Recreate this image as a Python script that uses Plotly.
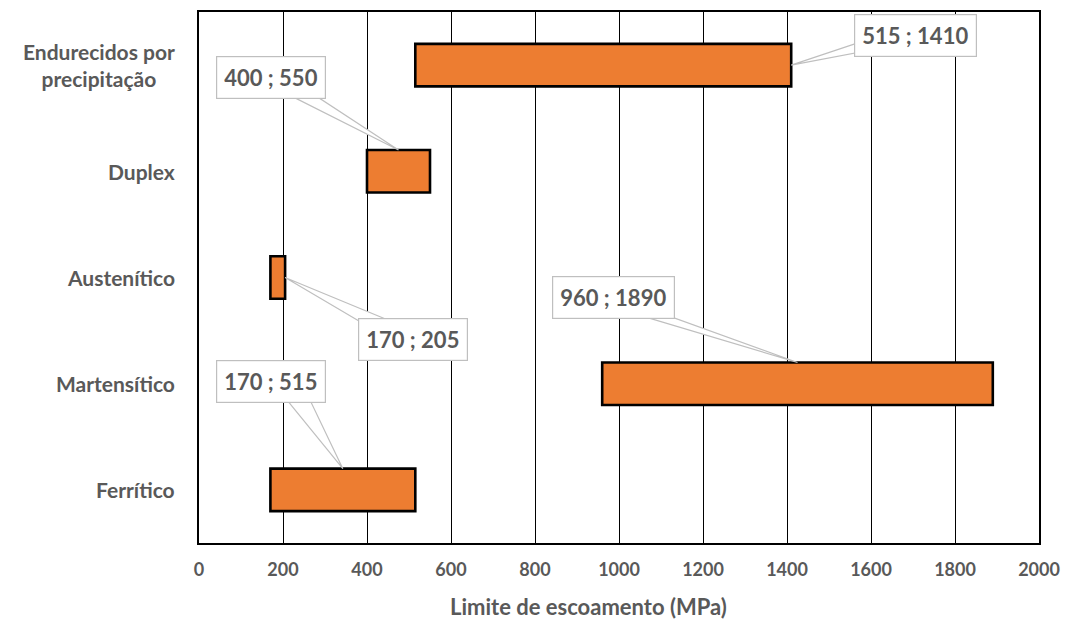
import plotly.graph_objects as go

# ---- data ----
categories = ["Ferrítico", "Martensítico", "Austenítico", "Duplex", "Endurecidos por precipitação"]
cat_labels = ["Ferrítico", "Martensítico", "Austenítico", "Duplex", "Endurecidos por<br>precipitação"]
y_min = [170, 960, 170, 400, 515]
y_max = [515, 1890, 205, 550, 1410]
x_ticks = [0, 200, 400, 600, 800, 1000, 1200, 1400, 1600, 1800, 2000]

# callout label placement (data units): box centre, and wedge base points
label_x = [172, 987, 509, 172, 1705]
label_y = [1.02, 1.81, 1.42, 3.88, 4.28]
wedge_base = [
    [(199, 0.898), (258, 0.898)],
    [(1014, 1.686), (1085, 1.686)],
    [(400, 1.545), (483, 1.545)],
    [(199, 3.75), (263, 3.75)],
    [(1590, 4.237), (1590, 4.134)],
]
# where the wedge points on the bar: "mid" = top centre, "end" = right end
tip_mode = ["mid", "mid", "end", "mid", "end"]

GRAY = "#595959"
FONT = "Lato"
BAR_W = 0.4

fig = go.Figure()
fig.add_trace(go.Bar(
    y=list(range(len(categories))),
    x=[b - a for a, b in zip(y_min, y_max)],
    base=y_min,
    orientation="h",
    width=BAR_W,
    marker=dict(color="#ED7D31", line=dict(color="black", width=2.6)),
    hoverinfo="skip",
))

shapes = []
annotations = []
for i in range(len(categories)):
    if tip_mode[i] == "mid":
        tx, ty = (y_min[i] + y_max[i]) / 2, i + BAR_W / 2
    else:
        tx, ty = y_max[i], i
    (b1x, b1y), (b2x, b2y) = wedge_base[i]
    shapes.append(dict(
        type="path", xref="x", yref="y", layer="above",
        path=f"M {b1x},{b1y} L {tx},{ty} L {b2x},{b2y} Z",
        line=dict(color="#bfbfbf", width=1.2), fillcolor="white",
    ))
    annotations.append(dict(
        x=label_x[i], y=label_y[i], xref="x", yref="y",
        text=f"{y_min[i]} ; {y_max[i]}", showarrow=False,
        font=dict(family=FONT, size=22, color=GRAY, weight="bold"),
        bgcolor="white", bordercolor="#bfbfbf", borderwidth=1.2, borderpad=7,
        xanchor="center", yanchor="middle",
    ))
    annotations.append(dict(
        x=0, y=i, xref="paper", yref="y", xshift=-22,
        text=cat_labels[i], showarrow=False, align="center",
        font=dict(family=FONT, size=21, color=GRAY, weight="bold"),
        xanchor="right", yanchor="middle",
    ))

annotations.append(dict(
    x=0.464, y=-0.12, xref="paper", yref="paper",
    text="Limite de escoamento (MPa)", showarrow=False,
    font=dict(family=FONT, size=22, color=GRAY, weight="bold"),
    xanchor="center", yanchor="middle",
))

fig.update_layout(
    width=1070, height=626,
    margin=dict(l=199, r=27, t=10, b=83),
    paper_bgcolor="white", plot_bgcolor="white",
    showlegend=False,
    shapes=shapes, annotations=annotations,
    xaxis=dict(
        range=[0, 2000], tickvals=x_ticks, ticktext=[str(v) for v in x_ticks],
        showgrid=True, gridcolor="black", gridwidth=1.3,
        showline=True, linecolor="black", linewidth=1.6, mirror=True,
        zeroline=False, ticks="", ticklabelstandoff=10,
        tickfont=dict(family=FONT, size=18, color=GRAY, weight="bold"),
    ),
    yaxis=dict(
        range=[-0.5, 4.5], tickvals=list(range(len(categories))),
        showticklabels=False, showgrid=False,
        showline=True, linecolor="black", linewidth=1.6, mirror=True,
        zeroline=False, ticks="",
    ),
)

fig.write_html("out.html")
